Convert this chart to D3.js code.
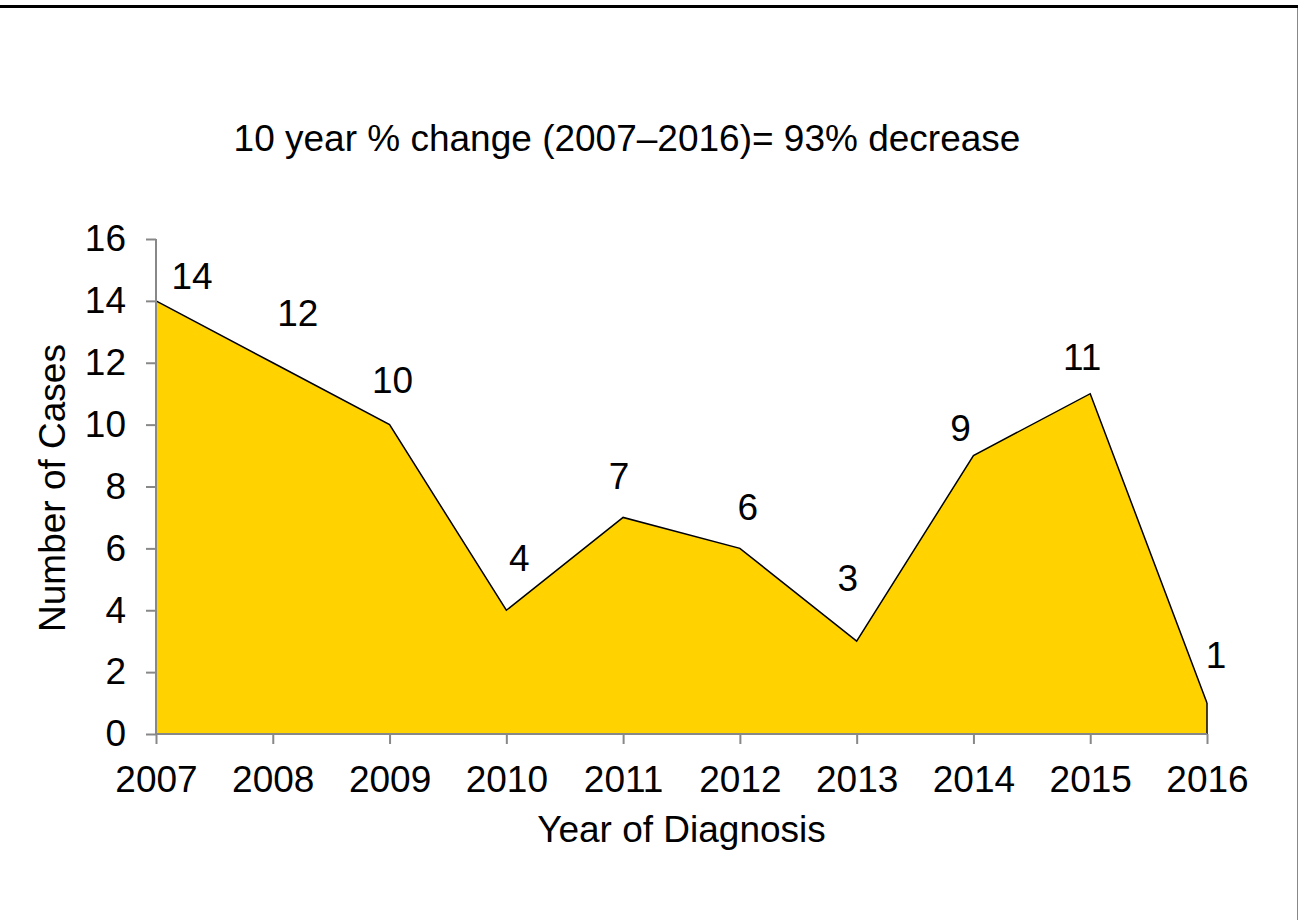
<!DOCTYPE html>
<html><head><meta charset="utf-8">
<script src="https://cdn.jsdelivr.net/npm/d3@7"></script>
<style>body{margin:0;background:#fff}svg{display:block}text{font-family:Arial,"Liberation Sans",sans-serif;fill:#000}</style>
</head><body><svg id="c" width="1298" height="920"></svg>
<script>
const years = [2007,2008,2009,2010,2011,2012,2013,2014,2015,2016];
const cases = [14,12,10,4,7,6,3,9,11,1];
const yTicks = [0,2,4,6,8,10,12,14,16];
const labelDx = [36,25,3,13,-4,8,-9,-13,-8,9];
const labelDy = [-25,-50,-45,-52,-41,-41,-63,-28,-37,-48];
const title = "10 year % change (2007\u20132016)= 93% decrease";
const xTitle = "Year of Diagnosis";
const yTitle = "Number of Cases";

const svg = d3.select("#c");
const fs = 37;
const x = d3.scalePoint().domain(years).range([156,1207]);
const y = d3.scaleLinear().domain([0,16]).range([734,239]);

svg.append("line").attr("x1",0).attr("x2",1298).attr("y1",6.5).attr("y2",6.5).attr("stroke","#000").attr("stroke-width",3);
svg.append("line").attr("x1",1297.5).attr("x2",1297.5).attr("y1",8).attr("y2",920).attr("stroke","#888").attr("stroke-width",1);

const area = d3.area().x(d=>x(d.year)).y0(y(0)).y1(d=>y(d.v));
const line = d3.line().x(d=>x(d.year)).y(d=>y(d.v));
const data = years.map((yr,i)=>({year:yr,v:cases[i]}));
svg.append("path").datum(data).attr("d",area).attr("fill","#FFD200");
const last = data[data.length-1];
svg.append("path").datum(data).attr("d",line).attr("fill","none").attr("stroke","#000").attr("stroke-width",1.5).attr("stroke-linejoin","miter");
svg.append("line").attr("x1",x(last.year)).attr("x2",x(last.year)).attr("y1",y(last.v)).attr("y2",y(0)).attr("stroke","#000").attr("stroke-width",1.5);

const yAxis = d3.axisLeft(y).tickValues(yTicks).tickSize(10).tickPadding(20);
const gy = svg.append("g").attr("transform","translate(156,0)").call(yAxis);
const xAxis = d3.axisBottom(x).tickSize(10).tickPadding(22);
const gx = svg.append("g").attr("transform","translate(0,734)").call(xAxis);
[gx,gy].forEach(g=>{
  g.selectAll("path,line").attr("stroke","#888").attr("stroke-width",2);
  g.select(".domain").attr("d", g===gx ? "M156,0H1207" : "M0,239V734");
  g.selectAll("text").attr("font-size",fs).attr("font-family","Arial, 'Liberation Sans', sans-serif").attr("fill","#000");
});

svg.selectAll(".lbl").data(data).enter().append("text").attr("class","lbl")
  .attr("x",(d,i)=>x(d.year)+labelDx[i]).attr("y",(d,i)=>y(d.v)+labelDy[i])
  .attr("text-anchor","middle").attr("dy","0.35em").attr("font-size",fs).text(d=>d.v);

svg.append("text").attr("x",627).attr("y",151).attr("text-anchor","middle").attr("font-size",fs).text(title);
svg.append("text").attr("x",681.5).attr("y",842).attr("text-anchor","middle").attr("font-size",fs).text(xTitle);
svg.append("text").attr("transform","translate(65,488) rotate(-90)").attr("text-anchor","middle").attr("font-size",fs).text(yTitle);
</script></body></html>
